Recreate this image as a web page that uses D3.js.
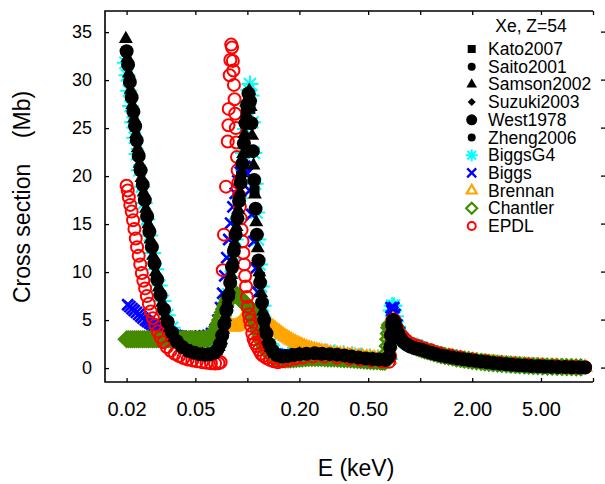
<!DOCTYPE html>
<html><head><meta charset="utf-8">
<script src="https://cdn.jsdelivr.net/npm/d3@7"></script>
<style>body{margin:0;background:#fff} svg{display:block;font-family:"Liberation Sans",Arial,sans-serif}</style>
</head><body><svg id="c" width="605" height="484"></svg>
<script>
// ---------- DATA (energy keV, cross section Mb) ----------
const xTickValues = [0.02,0.05,0.1,0.2,0.5,1,2,5,10];
const xTickLabels = ["0.02","0.05","","0.20","0.50","","2.00","5.00",""];
const yTickValues = [0,5,10,15,20,25,30,35];
const legendTitle = "Xe, Z=54";
const seriesNames = ["Kato2007","Saito2001","Samson2002","Suzuki2003","West1978","Zheng2006","BiggsG4","Biggs","Brennan","Chantler","EPDL"];

const biggsG4 = [[0.0197,31.8],[0.0201,30.5],[0.0206,28.9],[0.0211,27.3],[0.0217,25.6],[0.0223,24.0],[0.0230,22.3],[0.0237,20.6],[0.0245,18.9],[0.0253,17.2],[0.0262,15.5],[0.0272,13.8],[0.0283,12.0],[0.0295,10.3],[0.0309,8.6],[0.0325,7.0],[0.0344,5.5],[0.0367,4.2],[0.0395,3.1],[0.0430,2.3],[0.0470,1.85],[0.0515,1.6],[0.0560,1.5],[0.0605,1.5],[0.0645,1.7],[0.0675,2.3],[0.0700,3.2],[0.0725,4.5],[0.0750,6.0],[0.0775,7.7],[0.0800,9.5],[0.0825,11.4],[0.0850,13.4],[0.0875,15.5],[0.0900,17.7],[0.0925,20.0],[0.0950,22.4],[0.0975,24.9],[0.1000,27.3],[0.1020,29.0],[0.1035,29.6],[0.1050,28.4],[0.1070,25.6],[0.1090,22.4],[0.1110,19.2],[0.1130,16.2],[0.1152,13.4],[0.1176,10.8],[0.1202,8.5],[0.1232,6.5],[0.1266,4.8],[0.1306,3.5],[0.1355,2.5],[0.1415,1.8],[0.1490,1.4],[0.1590,1.25],[0.1720,1.35],[0.1880,1.5],[0.2060,1.6],[0.2280,1.7],[0.2550,1.72],[0.2850,1.68],[0.3200,1.6],[0.3600,1.5],[0.4050,1.38],[0.4550,1.26],[0.5100,1.15],[0.5700,1.05],[0.6300,0.97],[0.6650,0.95],[0.6700,3.5],[0.6780,6.0],[0.6880,6.5],[0.6970,6.0],[0.7060,6.5],[0.7200,5.4],[0.7400,4.3],[0.7650,3.5],[0.7950,3.0],[0.8300,2.65],[0.8700,2.4],[0.9150,2.25],[0.9650,2.3],[1.0200,2.1],[1.0900,1.88],[1.1700,1.68],[1.2600,1.5],[1.3600,1.34],[1.4700,1.2],[1.6000,1.07],[1.7500,0.95],[1.9200,0.84],[2.1200,0.73],[2.3500,0.63],[2.6000,0.54],[2.9000,0.46],[3.2500,0.39],[3.6500,0.33],[4.1000,0.27],[4.6000,0.22],[5.2000,0.18],[5.9000,0.15],[6.7000,0.12],[7.6000,0.1],[8.6000,0.08]];

const biggs = [[0.0203,6.6],[0.0209,6.4],[0.0215,6.2],[0.0221,6.0],[0.0228,5.8],[0.0235,5.6],[0.0242,5.4],[0.0249,5.2],[0.0257,5.0],[0.0264,4.85],[0.0272,4.7],[0.0280,4.55],[0.0288,4.4],[0.0296,4.25],[0.0305,4.1],[0.0314,4.0],[0.0323,3.9],[0.0332,3.8],[0.0342,3.7],[0.0352,3.6],[0.0362,3.5],[0.0373,3.45],[0.0385,3.4],[0.0397,3.35],[0.0410,3.3],[0.0440,3.3],[0.0470,3.3],[0.0500,3.3],[0.0530,3.3],[0.0560,3.35],[0.0590,3.4],[0.0620,3.6],[0.0650,4.0],[0.0675,5.0],[0.0700,6.3],[0.0720,7.8],[0.0740,9.6],[0.0760,11.5],[0.0780,13.4],[0.0800,15.1],[0.0825,16.8],[0.0850,18.2],[0.0880,19.5],[0.0910,20.4],[0.0940,20.9],[0.0970,21.0],[0.1000,20.3],[0.1030,18.5],[0.1060,16.0],[0.1090,13.2],[0.1120,10.4],[0.1150,7.9],[0.1180,5.9],[0.1210,4.4],[0.1245,3.3],[0.1285,2.5],[0.1330,1.9],[0.1390,1.6],[0.1460,1.45],[0.1550,1.35],[0.1700,1.4],[0.1900,1.55],[0.2150,1.65],[0.2450,1.7],[0.2800,1.65],[0.3200,1.55],[0.3700,1.42],[0.4300,1.28],[0.5000,1.15],[0.5700,1.03],[0.6300,0.95],[0.6680,0.92],[0.6720,4.0],[0.6780,6.3],[0.6860,6.0],[0.6950,5.8],[0.7040,6.3],[0.7150,5.6],[0.7350,4.5],[0.7600,3.7],[0.7900,3.15],[0.8250,2.75],[0.8650,2.5],[0.9100,2.3],[0.9600,2.3],[1.0200,2.1],[1.0900,1.9],[1.1700,1.7],[1.2600,1.52],[1.3700,1.35],[1.5000,1.18],[1.6500,1.04],[1.8200,0.92],[2.0200,0.8],[2.2500,0.69],[2.5000,0.59],[2.8000,0.5],[3.1500,0.42],[3.5500,0.35],[4.0000,0.29],[4.5000,0.24],[5.1000,0.2],[5.8000,0.16],[6.6000,0.13],[7.5000,0.1],[8.5000,0.08]];

const brennan = [[0.0300,3.0],[0.0330,3.0],[0.0360,2.95],[0.0390,2.9],[0.0420,2.9],[0.0450,2.9],[0.0480,2.9],[0.0510,2.9],[0.0540,2.9],[0.0570,2.95],[0.0600,3.05],[0.0612,3.2],[0.0625,3.4],[0.0637,3.7],[0.0650,4.0],[0.0662,4.3],[0.0675,4.6],[0.0687,4.8],[0.0700,5.0],[0.0712,5.05],[0.0725,5.1],[0.0737,5.0],[0.0750,4.9],[0.0762,4.75],[0.0775,4.6],[0.0787,4.5],[0.0800,4.4],[0.0812,4.35],[0.0825,4.3],[0.0837,4.3],[0.0850,4.3],[0.0862,4.35],[0.0875,4.4],[0.0887,4.5],[0.0900,4.6],[0.0915,4.75],[0.0930,4.9],[0.0945,5.0],[0.0960,5.1],[0.0975,5.2],[0.0990,5.3],[0.1005,5.35],[0.1020,5.4],[0.1035,5.4],[0.1050,5.4],[0.1065,5.38],[0.1080,5.35],[0.1095,5.32],[0.1110,5.3],[0.1130,5.25],[0.1150,5.2],[0.1175,5.1],[0.1200,5.0],[0.1225,4.9],[0.1250,4.8],[0.1275,4.7],[0.1300,4.6],[0.1330,4.5],[0.1360,4.4],[0.1390,4.3],[0.1420,4.2],[0.1455,4.05],[0.1490,3.9],[0.1530,3.75],[0.1570,3.6],[0.1610,3.45],[0.1650,3.3],[0.1695,3.18],[0.1740,3.05],[0.1790,2.92],[0.1840,2.8],[0.1895,2.68],[0.1950,2.55],[0.2010,2.45],[0.2070,2.35],[0.2135,2.25],[0.2200,2.15],[0.2275,2.06],[0.2350,1.98],[0.2435,1.91],[0.2520,1.85],[0.2610,1.78],[0.2700,1.72],[0.2800,1.67],[0.2900,1.62],[0.3020,1.56],[0.3150,1.5],[0.3300,1.46],[0.3450,1.42],[0.3620,1.38],[0.3800,1.35],[0.4000,1.31],[0.4200,1.27],[0.4420,1.22],[0.4650,1.18],[0.4900,1.13],[0.5150,1.09],[0.5420,1.04],[0.5700,1.0],[0.5970,0.96],[0.6250,0.93],[0.6450,0.91],[0.6650,0.9],[0.6700,2.5],[0.6750,3.4],[0.6800,4.2],[0.6870,4.7],[0.6950,5.0],[0.7020,4.95],[0.7100,4.8],[0.7220,4.45],[0.7350,4.1],[0.7520,3.75],[0.7700,3.4],[0.7900,3.15],[0.8100,2.9],[0.8350,2.7],[0.8600,2.5],[0.8900,2.37],[0.9200,2.25],[0.9550,2.15],[0.9900,2.05],[1.0300,1.95],[1.0700,1.85],[1.1150,1.75],[1.1600,1.65],[1.2150,1.55],[1.2700,1.45],[1.3350,1.36],[1.4000,1.28],[1.4750,1.2],[1.5500,1.12],[1.6350,1.05],[1.7200,0.98],[1.8200,0.91],[1.9200,0.85],[2.0350,0.79],[2.1500,0.73],[2.2850,0.67],[2.4200,0.62],[2.5700,0.57],[2.7200,0.53],[2.8900,0.49],[3.0600,0.45],[3.2500,0.41],[3.4500,0.38],[3.6700,0.35],[3.9000,0.32],[4.1500,0.29],[4.4000,0.27],[4.7000,0.24],[5.0000,0.22],[5.3500,0.2],[5.7000,0.18],[6.1000,0.16],[6.5000,0.14],[6.9500,0.12],[7.4000,0.11],[7.9000,0.1],[8.4000,0.09],[9.0000,0.08]];

const chantler = [[0.0200,3.0],[0.0205,3.0],[0.0211,3.0],[0.0216,3.0],[0.0222,3.0],[0.0228,3.0],[0.0234,3.0],[0.0240,3.0],[0.0247,3.0],[0.0253,3.0],[0.0260,3.0],[0.0267,3.0],[0.0274,3.0],[0.0282,3.0],[0.0289,3.0],[0.0297,3.0],[0.0305,3.0],[0.0313,3.0],[0.0322,3.0],[0.0331,3.0],[0.0340,3.0],[0.0349,3.0],[0.0358,3.0],[0.0368,3.0],[0.0378,3.0],[0.0388,3.0],[0.0399,3.0],[0.0410,3.0],[0.0421,3.0],[0.0432,3.0],[0.0444,3.0],[0.0456,3.0],[0.0468,3.0],[0.0481,3.0],[0.0494,3.0],[0.0507,3.0],[0.0521,3.0],[0.0535,3.0],[0.0549,3.0],[0.0564,3.02],[0.0579,3.05],[0.0595,3.1],[0.0608,3.2],[0.0620,3.3],[0.0633,3.5],[0.0645,3.7],[0.0658,4.0],[0.0670,4.3],[0.0683,4.65],[0.0695,5.0],[0.0708,5.4],[0.0720,5.8],[0.0733,6.15],[0.0745,6.5],[0.0758,6.8],[0.0770,7.1],[0.0783,7.3],[0.0795,7.5],[0.0808,7.65],[0.0820,7.8],[0.0833,7.85],[0.0845,7.8],[0.0858,7.7],[0.0870,7.6],[0.0883,7.5],[0.0895,7.4],[0.0908,7.25],[0.0920,7.1],[0.0935,7.0],[0.0950,6.9],[0.0965,6.8],[0.0980,6.7],[0.0995,6.55],[0.1010,6.4],[0.1025,6.2],[0.1040,6.0],[0.1055,5.8],[0.1070,5.6],[0.1085,5.35],[0.1100,5.1],[0.1115,4.8],[0.1130,4.5],[0.1145,4.2],[0.1160,3.9],[0.1175,3.6],[0.1190,3.3],[0.1208,3.0],[0.1225,2.7],[0.1243,2.45],[0.1260,2.2],[0.1280,2.0],[0.1300,1.8],[0.1325,1.6],[0.1350,1.45],[0.1380,1.32],[0.1410,1.2],[0.1445,1.12],[0.1480,1.05],[0.1520,1.0],[0.1560,0.95],[0.1610,0.92],[0.1660,0.9],[0.1720,0.9],[0.1780,0.9],[0.1850,0.92],[0.1920,0.95],[0.2000,0.98],[0.2080,1.0],[0.2170,1.03],[0.2260,1.05],[0.2360,1.05],[0.2460,1.05],[0.2570,1.05],[0.2680,1.05],[0.2800,1.04],[0.2920,1.02],[0.3050,1.01],[0.3180,1.0],[0.3320,0.98],[0.3470,0.96],[0.3630,0.94],[0.3790,0.92],[0.3960,0.9],[0.4140,0.87],[0.4330,0.85],[0.4520,0.82],[0.4720,0.8],[0.4930,0.77],[0.5150,0.75],[0.5380,0.73],[0.5620,0.71],[0.5870,0.69],[0.6060,0.68],[0.6250,0.67],[0.6380,1.0],[0.6450,1.6],[0.6490,2.3],[0.6530,3.0],[0.6580,3.6],[0.6620,4.2],[0.6680,4.45],[0.6750,4.6],[0.6820,4.65],[0.6900,4.7],[0.7000,4.6],[0.7100,4.4],[0.7250,4.1],[0.7400,3.8],[0.7600,3.5],[0.7800,3.2],[0.8050,2.95],[0.8300,2.7],[0.8600,2.52],[0.8900,2.35],[0.9200,2.25],[0.9500,2.15],[0.9850,2.05],[1.0200,1.95],[1.0600,1.85],[1.1000,1.75],[1.1500,1.65],[1.2000,1.55],[1.2600,1.45],[1.3200,1.35],[1.3900,1.26],[1.4600,1.18],[1.5400,1.1],[1.6200,1.02],[1.7100,0.95],[1.8000,0.88],[1.9000,0.82],[2.0000,0.76],[2.1200,0.7],[2.2500,0.64],[2.3700,0.59],[2.5000,0.55],[2.6500,0.51],[2.8000,0.47],[2.9700,0.43],[3.1500,0.4],[3.3500,0.36],[3.5500,0.33],[3.7700,0.3],[4.0000,0.27],[4.2500,0.24],[4.5000,0.22],[4.8000,0.2],[5.1000,0.18],[5.4500,0.16],[5.8000,0.14],[6.2000,0.12],[6.6000,0.11],[7.0500,0.1],[7.5000,0.09],[8.0000,0.08],[8.5000,0.07]];

const epdl = [[0.0200,19.0],[0.0203,18.5],[0.0206,17.8],[0.0210,17.0],[0.0214,16.3],[0.0218,15.4],[0.0222,14.5],[0.0226,13.5],[0.0230,12.6],[0.0235,11.7],[0.0240,10.8],[0.0245,9.9],[0.0250,9.1],[0.0256,8.3],[0.0262,7.5],[0.0269,6.7],[0.0276,5.9],[0.0284,5.2],[0.0293,4.5],[0.0303,3.8],[0.0314,3.2],[0.0327,2.7],[0.0342,2.2],[0.0360,1.8],[0.0380,1.5],[0.0402,1.25],[0.0426,1.05],[0.0452,0.9],[0.0480,0.8],[0.0510,0.7],[0.0545,0.62],[0.0580,0.55],[0.0615,0.5],[0.0650,0.48],[0.0680,0.5],[0.0700,0.6],[0.0720,10.2],[0.0732,13.9],[0.0752,18.9],[0.0770,23.6],[0.0777,25.3],[0.0780,27.0],[0.0790,30.5],[0.0797,32.1],[0.0806,33.7],[0.0815,33.4],[0.0824,32.0],[0.0830,31.0],[0.0836,29.5],[0.0843,28.0],[0.0850,26.5],[0.0857,25.0],[0.0864,23.5],[0.0871,22.0],[0.0878,20.6],[0.0886,19.3],[0.0895,18.0],[0.0905,16.8],[0.0915,15.6],[0.0926,14.4],[0.0937,13.2],[0.0948,12.0],[0.0959,10.8],[0.0970,9.6],[0.0982,8.5],[0.0994,7.4],[0.1006,6.4],[0.1020,5.6],[0.1035,5.0],[0.1050,4.4],[0.1068,3.6],[0.1088,3.0],[0.1110,2.6],[0.1135,2.3],[0.1165,1.9],[0.1200,1.5],[0.1240,1.25],[0.1290,1.05],[0.1350,0.85],[0.1420,0.7],[0.1500,0.6],[0.1600,0.7],[0.1750,0.85],[0.1900,1.0],[0.2100,1.1],[0.2400,1.2],[0.2800,1.2],[0.3300,1.1],[0.3900,1.0],[0.4500,0.9],[0.5200,0.8],[0.6000,0.7],[0.6600,0.65],[0.6700,1.2],[0.6780,3.5],[0.6900,5.0],[0.7100,5.0],[0.7400,4.1],[0.7800,3.4],[0.8300,2.9],[0.9000,2.5],[0.9700,2.3],[1.0500,2.05],[1.1500,1.85],[1.3000,1.55],[1.5000,1.3],[1.7000,1.1],[2.0000,0.9],[2.4000,0.7],[2.9000,0.53],[3.5000,0.4],[4.2000,0.31],[5.0000,0.24],[6.0000,0.18],[7.0000,0.13],[8.0000,0.1],[9.0000,0.08]];

const kato2007 = [[0.0600,1.4],[0.0680,2.1],[0.0760,6.5],[0.0840,12.5],[0.0920,20.0],[0.0980,26.5],[0.1040,27.0],[0.1100,18.5],[0.1180,9.5],[0.1260,4.6],[0.1350,2.3],[0.1500,1.3],[0.1700,1.25],[0.2000,1.45]];

const saito2001 = [[0.6000,0.88],[0.6400,0.84],[0.6680,1.6],[0.6750,2.8],[0.6830,4.0],[0.6920,4.9],[0.7020,5.1],[0.7150,4.6],[0.7350,3.9],[0.7600,3.3],[0.7900,2.9],[0.8300,2.5],[0.8700,2.3],[0.9200,2.1],[0.9800,2.0],[1.0500,1.85],[1.1200,1.65],[1.2000,1.5]];

const samson2002 = [[0.0198,34.3],[0.0202,32.3],[0.0206,30.7],[0.0211,29.0],[0.0216,27.4],[0.0221,26.0],[0.0227,24.4],[0.0232,22.9],[0.0238,21.3],[0.0244,19.8],[0.0251,18.3],[0.0259,16.6],[0.0267,15.0],[0.0275,13.4],[0.0285,11.7],[0.0295,10.0],[0.0307,8.4],[0.0321,6.8],[0.0337,5.4],[0.0356,4.2],[0.0378,3.2],[0.0405,2.5],[0.0437,2.0],[0.0472,1.7],[0.0510,1.5],[0.0550,1.4],[0.0590,1.4],[0.0628,1.5],[0.0658,1.75],[0.0683,2.2],[0.0705,2.9],[0.0725,4.0],[0.0745,5.3],[0.0765,6.7],[0.0785,8.2],[0.0805,9.7],[0.0825,11.3],[0.0845,13.0],[0.0865,14.7],[0.0885,16.5],[0.0905,18.3],[0.0925,20.3],[0.0945,22.3],[0.0965,24.4],[0.0985,26.5],[0.1005,28.1],[0.1025,28.9],[0.1045,27.2],[0.1065,24.2],[0.1085,21.1],[0.1105,18.1],[0.1125,15.2],[0.1148,12.5],[0.1172,10.0],[0.1200,7.8],[0.1232,5.9],[0.1270,4.3],[0.1315,3.0],[0.1370,2.1],[0.1440,1.5],[0.1530,1.25],[0.1650,1.2],[0.1800,1.3],[0.2000,1.45]];

const suzuki2003 = [[0.2000,1.45],[0.2400,1.55],[0.2800,1.5],[0.3300,1.4],[0.3800,1.25],[0.4400,1.1],[0.5000,1.0],[0.5600,0.92],[0.6200,0.86]];

const west1978 = [[0.0200,33.0],[0.0204,31.6],[0.0209,29.8],[0.0214,28.2],[0.0219,26.7],[0.0224,25.2],[0.0229,23.7],[0.0235,22.1],[0.0241,20.6],[0.0248,19.1],[0.0255,17.5],[0.0263,15.8],[0.0271,14.2],[0.0280,12.6],[0.0290,10.9],[0.0301,9.2],[0.0314,7.6],[0.0329,6.1],[0.0346,4.8],[0.0366,3.7],[0.0390,2.8],[0.0420,2.2],[0.0455,1.8],[0.0490,1.6],[0.0530,1.45],[0.0570,1.4],[0.0610,1.45],[0.0645,1.6],[0.0670,1.9],[0.0695,2.5],[0.0715,3.4],[0.0735,4.6],[0.0755,6.0],[0.0775,7.5],[0.0795,8.9],[0.0815,10.5],[0.0835,12.2],[0.0855,13.9],[0.0875,15.6],[0.0895,17.4],[0.0915,19.3],[0.0935,21.3],[0.0955,23.4],[0.0975,25.5],[0.0995,27.4],[0.1015,28.6],[0.1035,27.8],[0.1055,25.5],[0.1075,22.6],[0.1095,19.6],[0.1115,16.6],[0.1135,13.9],[0.1160,11.2],[0.1185,8.9],[0.1215,6.8],[0.1250,5.0],[0.1290,3.6],[0.1340,2.5],[0.1400,1.8],[0.1480,1.35],[0.1580,1.2],[0.1700,1.25],[0.1850,1.35],[0.2000,1.45],[0.2200,1.5],[0.2450,1.55],[0.2700,1.5],[0.3000,1.45],[0.3300,1.4],[0.3650,1.3],[0.4000,1.2],[0.4400,1.1],[0.4850,1.0],[0.5300,0.95],[0.5800,0.9],[0.6300,0.85],[0.6600,1.2],[0.6700,2.2],[0.6780,3.4],[0.6870,4.5],[0.6970,5.0],[0.7100,4.8],[0.7260,4.2],[0.7450,3.6],[0.7700,3.1],[0.8000,2.7],[0.8350,2.45],[0.8750,2.25],[0.9200,2.1],[0.9700,2.0],[1.0200,1.9],[1.0800,1.75],[1.1500,1.6],[1.2300,1.45],[1.3200,1.3],[1.4200,1.2],[1.5300,1.1],[1.6500,1.0],[1.7800,0.92],[1.9200,0.84],[2.0800,0.76],[2.2500,0.68],[2.4400,0.6],[2.6500,0.53],[2.8800,0.46],[3.1300,0.4],[3.4000,0.35],[3.7000,0.3],[4.0300,0.26],[4.4000,0.22],[4.8000,0.19],[5.2500,0.16],[5.7500,0.14],[6.3000,0.12],[6.9000,0.1],[7.5500,0.08],[8.3000,0.07],[9.0000,0.06]];

const zheng2006 = [[1.2500,1.4],[1.4000,1.22],[1.6000,1.03],[1.8500,0.88],[2.1000,0.75],[2.4000,0.62],[2.8000,0.49],[3.3000,0.38],[3.9000,0.28],[4.6000,0.21],[5.4000,0.16],[6.4000,0.12],[7.6000,0.08],[8.8000,0.06]];

// ---------- MARKER SHAPES ----------
function circ(r){return `M${-r},0A${r},${r} 0 1,0 ${r},0A${r},${r} 0 1,0 ${-r},0Z`;}
function sq(s){const h=s/2;return `M${-h},${-h}H${h}V${h}H${-h}Z`;}
function tri(s){const h=s*Math.sqrt(3)/2;return `M0,${-2*h/3}L${s/2},${h/3}L${-s/2},${h/3}Z`;}
function dia(h){return `M0,${-h}L${h},0L0,${h}L${-h},0Z`;}
function times(h){return `M${-h},${-h}L${h},${h}M${-h},${h}L${h},${-h}`;}
function aster(h){const d=h*0.7071;return `M${-h},0H${h}M0,${-h}V${h}M${-d},${-d}L${d},${d}M${-d},${d}L${d},${-d}`;}

const styles = {
  BiggsG4:   {data:biggsG4,  plot:aster(8.5), leg:aster(6),   fill:"none", stroke:"#00FFFF", sw:2},
  Biggs:     {data:biggs,    plot:times(5.5), leg:times(4.5), fill:"none", stroke:"#0000FF", sw:2.6},
  Brennan:   {data:brennan,  plot:tri(12),    leg:tri(10),    fill:"none", stroke:"#FFA500", sw:2.3},
  Chantler:  {data:chantler, plot:dia(7.5),   leg:dia(5.5),   fill:"none", stroke:"#458B00", sw:2.6},
  EPDL:      {data:epdl,     plot:circ(6),    leg:circ(4),    fill:"none", stroke:"#FF0000", sw:2},
  Kato2007:  {data:kato2007, plot:sq(10),     leg:sq(8),      fill:"#000", stroke:"none", sw:0},
  Saito2001: {data:saito2001,plot:circ(5),    leg:circ(4),    fill:"#000", stroke:"none", sw:0},
  Samson2002:{data:samson2002,plot:tri(14),   leg:tri(10.5),  fill:"#000", stroke:"none", sw:0},
  Suzuki2003:{data:suzuki2003,plot:dia(6),    leg:dia(4),     fill:"#000", stroke:"none", sw:0},
  West1978:  {data:west1978, plot:circ(7),    leg:circ(5.5),  fill:"#000", stroke:"none", sw:0},
  Zheng2006: {data:zheng2006,plot:circ(6),    leg:circ(4),    fill:"#000", stroke:"none", sw:0}
};
const drawOrder = ["BiggsG4","Biggs","Brennan","Chantler","EPDL","Kato2007","Saito2001","Samson2002","Suzuki2003","West1978","Zheng2006"];

// ---------- SCALES ----------
const L=105, R=593, T=11, B=382;
const x = d3.scaleLog().domain([0.015,10]).range([L,R]);
const y = d3.scaleLinear().domain([-1.45,37.2]).range([B,T]);
const svg = d3.select("#c");

svg.append("defs").append("clipPath").attr("id","clip")
  .append("rect").attr("x",L).attr("y",T).attr("width",R-L+12).attr("height",B-T);

const plot = svg.append("g").attr("clip-path","url(#clip)");
drawOrder.forEach(name=>{
  const s = styles[name];
  plot.append("g").selectAll("path").data(s.data).join("path")
    .attr("d", s.plot)
    .attr("transform", d=>`translate(${x(d[0]).toFixed(2)},${y(d[1]).toFixed(2)})`)
    .attr("fill", s.fill).attr("stroke", s.stroke).attr("stroke-width", s.sw);
});

// ---------- AXES ----------
const ax = svg.append("g");
const xb = ax.append("g").attr("transform",`translate(0,${B})`)
  .call(d3.axisBottom(x).tickValues(xTickValues).tickFormat((d,i)=>xTickLabels[i]).tickSizeInner(-4).tickSizeOuter(0).tickPadding(20));
const xt = ax.append("g").attr("transform",`translate(0,${T})`)
  .call(d3.axisTop(x).tickValues(xTickValues).tickFormat("").tickSizeInner(-4).tickSizeOuter(0));
const yl = ax.append("g").attr("transform",`translate(${L},0)`)
  .call(d3.axisLeft(y).tickValues(yTickValues).tickSizeInner(-4).tickSizeOuter(0).tickPadding(13));
[xb,xt,yl].forEach(g=>{g.select(".domain").remove(); g.selectAll("line").attr("stroke","#000").attr("stroke-width",1.3);
  g.selectAll("text").attr("fill","#000").attr("font-family","Liberation Sans, Arial, sans-serif");});
xb.selectAll("text").attr("font-size",20);
yl.selectAll("text").attr("font-size",18);
ax.append("g").selectAll("line").data(yTickValues).join("line")
  .attr("x1",601).attr("x2",605).attr("y1",d=>y(d)).attr("y2",d=>y(d))
  .attr("stroke","#000").attr("stroke-width",1.3);
ax.append("path").attr("d",`M${R},${T}H${L}V${B}H${R}`).attr("fill","none").attr("stroke","#000").attr("stroke-width",1.6);

// titles
svg.append("text").attr("x",356).attr("y",476).attr("text-anchor","middle")
  .attr("font-size",23).text("E (keV)");
svg.append("text").attr("transform","translate(30,197) rotate(-90)").attr("text-anchor","middle")
  .attr("font-size",23).style("white-space","pre").text("Cross section    (Mb)");

// ---------- LEGEND ----------
const lg = svg.append("g");
lg.append("text").attr("x",531).attr("y",31.5).attr("text-anchor","middle").attr("font-size",17.5).text(legendTitle);
seriesNames.forEach((name,i)=>{
  const s = styles[name];
  const yy = 55 + 17.7*i;
  lg.append("path").attr("d",s.leg).attr("transform",`translate(471.7,${yy-6})`)
    .attr("fill",s.fill).attr("stroke",s.stroke).attr("stroke-width",s.sw===0?0:Math.min(s.sw,2.2));
  lg.append("text").attr("x",488).attr("y",yy).attr("font-size",17.5).text(name);
});
</script></body></html>
